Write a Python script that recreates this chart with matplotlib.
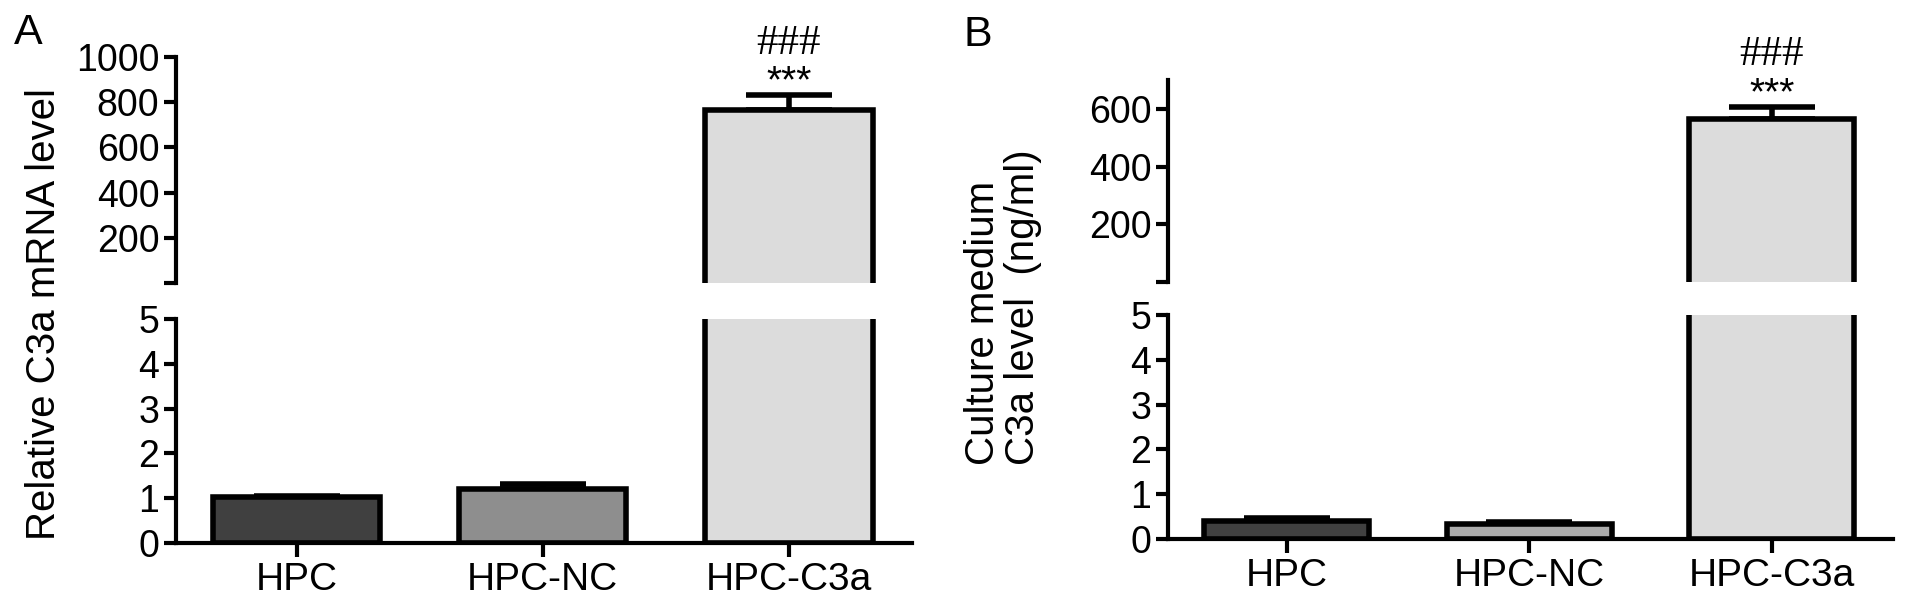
import numpy as np
import matplotlib
matplotlib.use('Agg')
from matplotlib import pyplot as plt

plt.rcParams['font.family'] = ['Liberation Sans', 'DejaVu Sans']

groups = ['HPC', 'HPC-NC', 'HPC-C3a']

# panel A - relative C3a mRNA
mrna_mean = [1.02, 1.20, 765]
mrna_err = [0.04, 0.12, 65]
mrna_colors = ['#404040', '#8e8e8e', '#dcdcdc']

# panel B - culture medium C3a (ng/ml)
medium_mean = [0.40, 0.34, 564]
medium_err = [0.06, 0.05, 43]
medium_colors = ['#404040', '#ababab', '#dcdcdc']

lower_ticks = [0, 1, 2, 3, 4, 5]
upper_ticks_a = [0, 200, 400, 600, 800, 1000]
upper_ticks_b = [0, 200, 400, 600]

W, H = 1913, 606
fig = plt.figure(figsize=(W / 100, H / 100), dpi=100)

LW = 4
BARW = 0.68


def style(ax):
    for s in ['top', 'right']:
        ax.spines[s].set_visible(False)
    for s in ['left', 'bottom']:
        ax.spines[s].set_linewidth(3)
    ax.tick_params(axis='y', direction='out', length=9, width=3, labelsize=27, pad=3)
    ax.tick_params(axis='x', direction='out', length=10, width=3, labelsize=28, pad=4)
    ax.set_xlim(-0.49, 2.5)


def panel(box_lo, box_hi, means, errs, colors, up_ticks, up_top):
    x = np.arange(len(groups))
    lo = fig.add_axes(box_lo)
    hi = fig.add_axes(box_hi)
    style(lo)
    style(hi)

    # lower segment 0-5
    lo.bar(x, means, width=BARW, color=colors, edgecolor='k', linewidth=LW, zorder=2)
    lo.errorbar(x, means, yerr=[np.zeros(3), errs], fmt='none', ecolor='k',
                elinewidth=LW, capsize=31, capthick=LW, zorder=1)
    lo.set_ylim(0, 5)
    lo.set_yticks(lower_ticks)
    lo.set_xticks(x)
    lo.set_xticklabels(groups)

    # upper segment, only bars tall enough
    start = -0.05 * up_top
    for i in range(len(groups)):
        if means[i] > 5:
            hi.bar(x[i], means[i] - start, bottom=start, width=BARW, color=colors[i],
                   edgecolor='k', linewidth=LW, zorder=2)
            hi.errorbar(x[i], means[i], yerr=[[0], [errs[i]]], fmt='none', ecolor='k',
                        elinewidth=LW, capsize=31, capthick=LW, zorder=1)
            top = means[i] + errs[i]
            hi.annotate('***', (x[i], top), xytext=(0, 2), textcoords='offset points',
                        ha='center', va='baseline', fontsize=28)
            hi.annotate('###', (x[i], top), xytext=(0, 30), textcoords='offset points',
                        ha='center', va='baseline', fontsize=31,
                        family=['Liberation Serif', 'DejaVu Serif'])
    hi.set_ylim(0, up_top)
    hi.set_yticks(up_ticks)
    hi.set_yticklabels([''] + [str(t) for t in up_ticks[1:]])
    hi.spines['bottom'].set_visible(False)
    hi.set_xticks([])
    return lo, hi


panel([176 / W, 1 - 543 / H, (912 - 176) / W, (543 - 319) / H],
      [176 / W, 1 - 283 / H, (912 - 176) / W, (283 - 57) / H],
      mrna_mean, mrna_err, mrna_colors, upper_ticks_a, 1000)

panel([1168 / W, 1 - 539 / H, (1893 - 1168) / W, (539 - 315) / H],
      [1168 / W, 1 - 282 / H, (1893 - 1168) / W, (282 - 80) / H],
      medium_mean, medium_err, medium_colors, upper_ticks_b, 700)

fig.text(28 / W, 1 - 33 / H, 'A', fontsize=31, ha='center', va='center')
fig.text(978 / W, 1 - 35 / H, 'B', fontsize=31, ha='center', va='center')

fig.text(44 / W, 1 - 314 / H, 'Relative C3a mRNA level', rotation=90,
         fontsize=29, ha='center', va='center')
fig.text(1003 / W, 1 - 465 / H, 'Culture medium\nC3a level  (ng/ml)', rotation=90,
         fontsize=29, ha='center', va='bottom', multialignment='left', linespacing=1.1)

fig.savefig('out.png', dpi=100)
